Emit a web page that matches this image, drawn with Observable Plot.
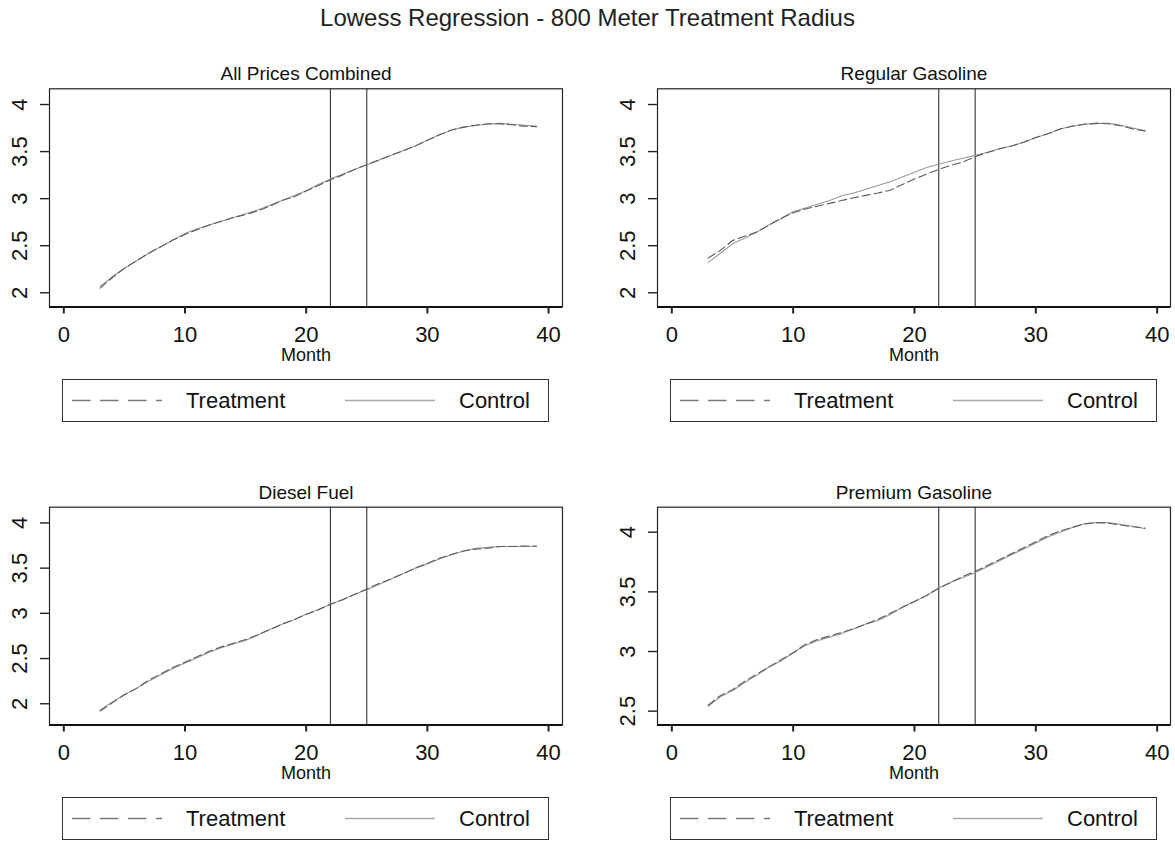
<!DOCTYPE html>
<html>
<head>
<meta charset="utf-8">
<script src="https://cdn.jsdelivr.net/npm/d3@7"></script>
<script src="https://cdn.jsdelivr.net/npm/@observablehq/plot@0.6"></script>
<style>
  body { margin: 0; background: #fff; font-family: "Liberation Sans", Arial, sans-serif; color: #111; }
  #root { position: relative; width: 1175px; height: 841px; overflow: hidden; background: #fff; }
  .main-title { position: absolute; left: 0; top: 4px; width: 1175px; text-align: center; font-size: 24px; line-height: 28px; color: #222; }
  .panel { position: absolute; }
  .legend { position: absolute; border: 1.5px solid #333; box-sizing: border-box; background: #fff; }
  .legend span { position: absolute; top: 1px; font-size: 22px; line-height: 40px; color: #111; white-space: nowrap; }
</style>
</head>
<body>
<div id="root">
  <div class="main-title">Lowess Regression - 800 Meter Treatment Radius</div>
</div>
<script>
// ---------------- data ----------------
const months = [3, 4, 5, 6, 7, 8, 9, 10, 11, 12, 13, 14, 15, 16, 17, 18, 19, 20, 21,
                22, 23, 24, 25, 26, 27, 28, 29, 30, 31, 32, 33, 34, 35, 36, 37, 38, 39];

const eventMonths = [22, 25];
const xTicks = [0, 10, 20, 30, 40];
const seriesNames = ["Treatment", "Control"];

const panelTitles = ["All Prices Combined", "Regular Gasoline", "Diesel Fuel", "Premium Gasoline"];

// All Prices Combined
const allControl = [2.07, 2.17, 2.26, 2.34, 2.42, 2.49, 2.56, 2.63, 2.68, 2.72, 2.76, 2.80, 2.84, 2.88, 2.93,
                    2.98, 3.03, 3.085, 3.15, 3.21, 3.26, 3.31, 3.36, 3.41, 3.46, 3.51, 3.56, 3.62, 3.68, 3.73,
                    3.76, 3.78, 3.79, 3.80, 3.79, 3.78, 3.77];
const allTreat   = [2.05, 2.16, 2.26, 2.34, 2.42, 2.49, 2.56, 2.62, 2.67, 2.72, 2.76, 2.80, 2.83, 2.87, 2.92,
                    2.98, 3.02, 3.08, 3.14, 3.20, 3.25, 3.31, 3.36, 3.41, 3.46, 3.51, 3.56, 3.62, 3.68, 3.73,
                    3.76, 3.78, 3.795, 3.795, 3.785, 3.77, 3.765];

// Regular Gasoline
const regControl = [2.32, 2.42, 2.52, 2.58, 2.645, 2.72, 2.79, 2.86, 2.90, 2.94, 2.98, 3.03, 3.06, 3.10, 3.14,
                    3.18, 3.23, 3.28, 3.33, 3.365, 3.40, 3.43, 3.46, 3.49, 3.53, 3.56, 3.60, 3.65, 3.69, 3.74,
                    3.77, 3.79, 3.80, 3.80, 3.78, 3.75, 3.72];
const regTreat   = [2.37, 2.45, 2.555, 2.60, 2.645, 2.72, 2.79, 2.85, 2.89, 2.92, 2.95, 2.98, 3.01, 3.035, 3.06,
                    3.09, 3.15, 3.21, 3.26, 3.31, 3.355, 3.39, 3.445, 3.49, 3.53, 3.56, 3.60, 3.65, 3.69, 3.74,
                    3.77, 3.79, 3.80, 3.795, 3.775, 3.74, 3.72];

// Diesel Fuel
const dieselControl = [1.93, 2.02, 2.10, 2.17, 2.25, 2.32, 2.39, 2.45, 2.51, 2.57, 2.62, 2.66, 2.70, 2.76, 2.82,
                       2.88, 2.93, 2.99, 3.04, 3.10, 3.15, 3.21, 3.26, 3.32, 3.38, 3.44, 3.50, 3.55, 3.60, 3.65,
                       3.69, 3.72, 3.73, 3.74, 3.74, 3.74, 3.74];
const dieselTreat   = [1.92, 2.01, 2.10, 2.17, 2.26, 2.33, 2.40, 2.46, 2.52, 2.58, 2.63, 2.67, 2.71, 2.76, 2.82,
                       2.88, 2.93, 2.99, 3.04, 3.10, 3.15, 3.21, 3.27, 3.33, 3.38, 3.44, 3.50, 3.55, 3.61, 3.65,
                       3.69, 3.71, 3.72, 3.74, 3.74, 3.745, 3.745];

// Premium Gasoline
const premControl = [2.54, 2.62, 2.67, 2.74, 2.80, 2.87, 2.92, 2.99, 3.05, 3.09, 3.12, 3.15, 3.19, 3.23, 3.26,
                     3.31, 3.37, 3.42, 3.47, 3.53, 3.58, 3.62, 3.66, 3.71, 3.76, 3.81, 3.86, 3.91, 3.96, 4.00,
                     4.04, 4.07, 4.08, 4.08, 4.065, 4.05, 4.03];
const premTreat   = [2.55, 2.63, 2.68, 2.75, 2.81, 2.87, 2.93, 2.99, 3.06, 3.10, 3.13, 3.16, 3.19, 3.23, 3.27,
                     3.32, 3.37, 3.42, 3.47, 3.53, 3.58, 3.63, 3.67, 3.72, 3.77, 3.82, 3.87, 3.92, 3.97, 4.01,
                     4.04, 4.07, 4.08, 4.075, 4.06, 4.045, 4.035];

const yTicksStd = [2, 2.5, 3, 3.5, 4];
const yTicksPrem = [2.5, 3, 3.5, 4];

// ---------------- layout ----------------
const FONT = "'Liberation Sans', Arial, Helvetica, sans-serif";
const root = document.getElementById("root");

function makeRows(treat, control) {
  return months.map((m, i) => ({month: m, treatment: treat[i], control: control[i]}));
}

const panels = [
  {title: panelTitles[0], rows: makeRows(allTreat, allControl), left: 0, top: 55,
   mL: 49, mR: 23, mT: 33.3, mB: 58.5, xDomain: [-1.18, 41.15], yDomain: [1.849, 4.167], yTicks: yTicksStd, legendLeft: 62, legendTop: 379},
  {title: panelTitles[1], rows: makeRows(regTreat, regControl), left: 590, top: 55,
   mL: 67, mR: 5, mT: 33.3, mB: 58.5, xDomain: [-1.18, 41.1], yDomain: [1.849, 4.167], yTicks: yTicksStd, legendLeft: 670, legendTop: 379},
  {title: panelTitles[2], rows: makeRows(dieselTreat, dieselControl), left: 0, top: 474,
   mL: 49, mR: 23, mT: 32.7, mB: 59.5, xDomain: [-1.18, 41.15], yDomain: [1.765, 4.174], yTicks: yTicksStd, legendLeft: 62, legendTop: 797},
  {title: panelTitles[3], rows: makeRows(premTreat, premControl), left: 590, top: 474,
   mL: 67, mR: 5, mT: 32.7, mB: 59.5, xDomain: [-1.18, 41.1], yDomain: [2.384, 4.2095], yTicks: yTicksPrem, legendLeft: 670, legendTop: 797}
];

for (const p of panels) {
  const chart = Plot.plot({
    width: 585,
    height: 310,
    marginLeft: p.mL,
    marginRight: p.mR,
    marginTop: p.mT,
    marginBottom: p.mB,
    x: {domain: p.xDomain},
    y: {domain: p.yDomain},
    style: {fontFamily: FONT, fontSize: "22px", color: "#111", background: "transparent", overflow: "visible"},
    marks: [
      Plot.frame({stroke: "#222", strokeWidth: 1.2}),
      Plot.ruleX(eventMonths, {stroke: "#333", strokeWidth: 1.1}),
      Plot.line(p.rows, {x: "month", y: "control", stroke: "#9a9a9a", strokeWidth: 1.1}),
      Plot.line(p.rows, {x: "month", y: "treatment", stroke: "#5a5a5a", strokeWidth: 1.1, strokeDasharray: "8,4"}),
      Plot.ruleY([p.yDomain[0]], {stroke: "#111", strokeWidth: 2.2}),
      Plot.axisX({ticks: xTicks, tickSize: 7, tickPadding: 12, strokeWidth: 2, stroke: "#222",
                  fontSize: 22, label: null, tickFormat: d => String(d)}),
      Plot.axisY({ticks: p.yTicks, tickSize: 9, tickPadding: 14, tickRotate: -90, strokeWidth: 1.4, stroke: "#222",
                  fontSize: 22, label: null, tickFormat: d => String(d)}),
      Plot.text([p.title], {frameAnchor: "top", lineAnchor: "middle", dy: -14.5, fontSize: 19, fill: "#111"}),
      Plot.text(["Month"], {frameAnchor: "bottom", lineAnchor: "middle", dy: 48.5, fontSize: 18, fill: "#111"})
    ]
  });
  const wrap = document.createElement("div");
  wrap.className = "panel";
  wrap.style.left = p.left + "px";
  wrap.style.top = p.top + "px";
  wrap.appendChild(chart);
  root.appendChild(wrap);

  // legend box
  const box = document.createElement("div");
  box.className = "legend";
  Object.assign(box.style, {left: p.legendLeft + "px", top: p.legendTop + "px", width: "487px", height: "43px"});
  box.innerHTML =
    `<svg width="484" height="40" style="position:absolute;left:0;top:0">
       <line x1="9" x2="99" y1="20.5" y2="20.5" stroke="#777" stroke-width="1.5" stroke-dasharray="18.5,9.5"/>
       <line x1="282" x2="372" y1="20.5" y2="20.5" stroke="#aaa" stroke-width="1.5"/>
     </svg>
     <span style="left:123px">${seriesNames[0]}</span>
     <span style="left:396px">${seriesNames[1]}</span>`;
  root.appendChild(box);
}
</script>
</body>
</html>
